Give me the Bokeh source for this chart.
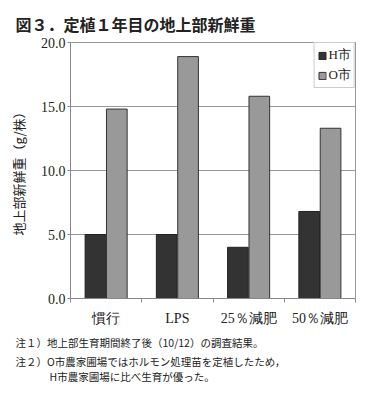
from bokeh.plotting import figure
from bokeh.models import (ColumnDataSource, FixedTicker, PrintfTickFormatter, Title,
                          Legend, LegendItem, Range1d)
from bokeh.transform import dodge
from bokeh.embed import file_html
from bokeh.resources import INLINE

categories = ["慣行", "LPS", "25％減肥", "50％減肥"]
h_values = [5.0, 5.0, 4.0, 6.8]
o_values = [14.8, 18.9, 15.8, 13.3]
y_ticks = [0, 5, 10, 15, 20]
series_names = ["H市", "O市"]
title_text = "図３．定植１年目の地上部新鮮重"
y_label = "地上部新鮮重（g/株）"
notes = ["注１）地上部生育期間終了後（10/12）の調査結果。",
         "注２）O市農家圃場ではホルモン処理苗を定植したため，",
         "H市農家圃場に比べ生育が優った。"]

JP = "Noto Sans CJK JP"
SERIF = "Liberation Serif"

centers = [i + 0.5 for i in range(len(categories))]
src = ColumnDataSource(dict(x=centers, h=h_values, o=o_values))

p = figure(width=380, height=398, output_backend="svg", toolbar_location=None,
           x_range=Range1d(0, len(categories)), y_range=Range1d(0, 20),
           min_border_left=70, min_border_right=25, min_border_top=42,
           min_border_bottom=100)
p.outline_line_color = "#999999"
p.background_fill_color = "white"
p.border_fill_color = "white"

rh = p.vbar(x=dodge("x", -0.15, range=p.x_range), top="h", width=0.29, source=src,
            fill_color="#333333", line_color="#222222", line_width=1)
ro = p.vbar(x=dodge("x", 0.15, range=p.x_range), top="o", width=0.29, source=src,
            fill_color="#999999", line_color="#333333", line_width=1)

# x axis
p.xaxis.ticker = FixedTicker(ticks=centers, minor_ticks=list(range(len(categories) + 1)))
p.xaxis.major_label_overrides = {c: lab for c, lab in zip(centers, categories)}
p.xaxis.major_tick_line_color = None
p.xaxis.minor_tick_line_color = "#888888"
p.xaxis.minor_tick_out = 4
p.xaxis.minor_tick_in = 0
p.xaxis.axis_line_color = "#888888"
p.xaxis.major_label_text_font = SERIF
p.xaxis.major_label_text_font_size = "14px"
p.xaxis.major_label_text_color = "#222222"
p.xaxis.major_label_standoff = 6
p.xgrid.grid_line_color = None

# y axis
p.yaxis.ticker = FixedTicker(ticks=y_ticks)
p.yaxis.formatter = PrintfTickFormatter(format="%.1f")
p.yaxis.minor_tick_line_color = None
p.yaxis.major_tick_out = 3
p.yaxis.major_tick_in = 0
p.yaxis.major_tick_line_color = "#888888"
p.yaxis.axis_line_color = "#888888"
p.yaxis.major_label_text_font = SERIF
p.yaxis.major_label_text_font_size = "14px"
p.yaxis.major_label_text_color = "#222222"
p.yaxis.major_label_standoff = 2
p.yaxis.axis_label = y_label
p.yaxis.axis_label_text_font = JP
p.yaxis.axis_label_text_font_style = "normal"
p.yaxis.axis_label_text_font_size = "13px"
p.yaxis.axis_label_text_color = "#222222"
p.yaxis.axis_label_standoff = 10
p.ygrid.grid_line_color = "#999999"
p.ygrid.grid_line_width = 1

legend = Legend(items=[LegendItem(label=series_names[0], renderers=[rh]),
                       LegendItem(label=series_names[1], renderers=[ro])],
                location="top_right", margin=0, padding=3, spacing=2,
                glyph_width=9, glyph_height=9, label_standoff=2,
                label_text_font=SERIF, label_text_font_size="13px",
                label_text_color="#222222", border_line_color="#999999",
                label_height=14)
p.add_layout(legend)

p.add_layout(Title(text=title_text, align="left", offset=-55, standoff=13,
                   text_font=JP, text_font_size="16px", text_font_style="bold",
                   text_color="#222222"), "above")
note_offsets = [-55, -55, -21]
note_standoffs = [8, -3, -2]
for off, so, t in zip(note_offsets, note_standoffs, notes):
    p.add_layout(Title(text=t, align="left", offset=off, standoff=so,
                       text_font=JP, text_font_size="10.5px", text_font_style="normal",
                       text_color="#222222", text_line_height=1.0), "below")

open("out.html", "w").write(file_html(p, INLINE))
